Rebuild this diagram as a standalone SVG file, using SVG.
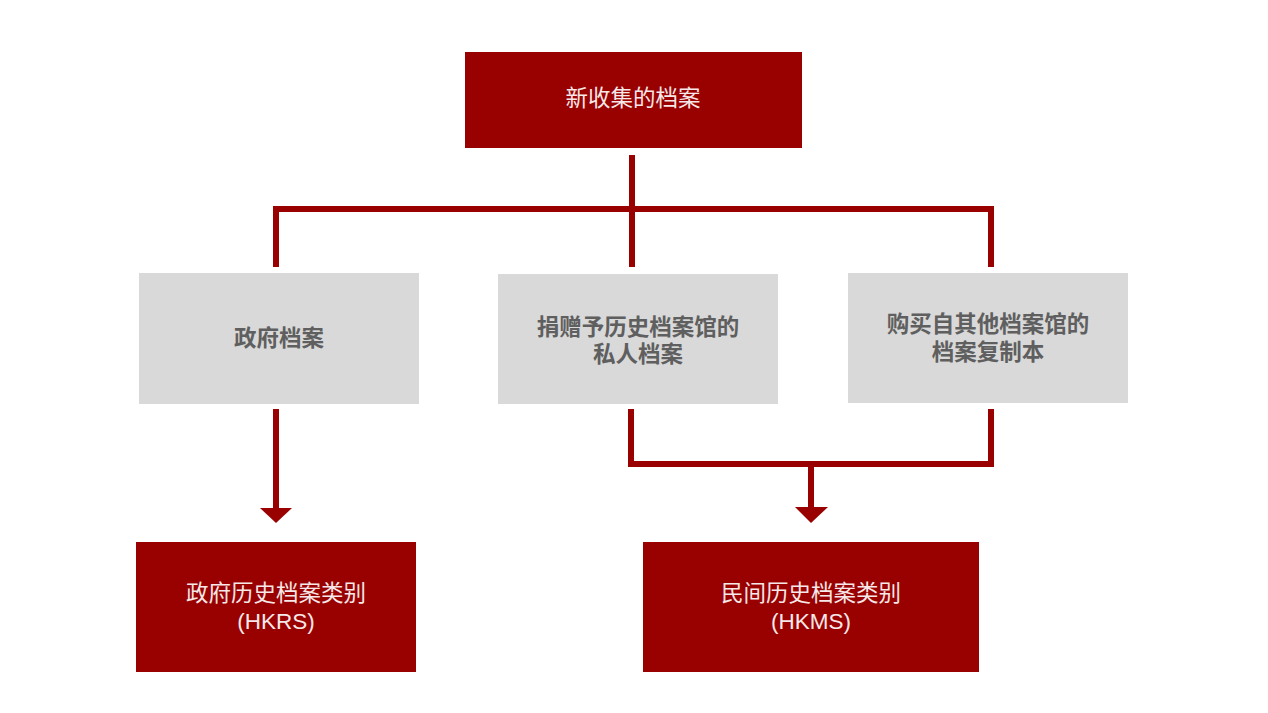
<svg xmlns="http://www.w3.org/2000/svg" width="1268" height="713" viewBox="0 0 1268 713">
<style>
.red{fill:#990000}
.gray{fill:#d9d9d9}
.wt{fill:#f6e8e8;font-family:"Liberation Sans","Noto Sans CJK SC",sans-serif;font-size:22.5px;text-anchor:middle;dominant-baseline:central}
.gt{fill:#5f5f5f;font-family:"Liberation Sans","Noto Sans CJK SC",sans-serif;font-size:22.5px;font-weight:bold;text-anchor:middle;dominant-baseline:central}
.ln{stroke:#990000;stroke-width:6;fill:none}
</style>
<rect width="1268" height="713" fill="#ffffff"/>
<g id="connectors">
<line class="ln" x1="632" y1="155" x2="632" y2="267"/>
<polyline class="ln" points="276,267 276,209 991,209 991,267"/>
<line class="ln" x1="276" y1="409" x2="276" y2="510"/>
<polygon class="red" points="260,508 292,508 276,523"/>
<polyline class="ln" points="631,409 631,464 991,464 991,409"/>
<line class="ln" x1="811" y1="464" x2="811" y2="510"/>
<polygon class="red" points="795,507 828,507 811,523"/>
</g>
<g id="top">
<rect class="red" x="465" y="52" width="337" height="96"/>
<text class="wt" x="633" y="98">新收集的档案</text>
</g>
<g id="gov">
<rect class="gray" x="139" y="273" width="280" height="131"/>
<text class="gt" x="279" y="338">政府档案</text>
</g>
<g id="private">
<rect class="gray" x="498" y="274" width="280" height="130"/>
<text class="gt" x="638" y="327">捐赠予历史档案馆的</text>
<text class="gt" x="638" y="354">私人档案</text>
</g>
<g id="purchased">
<rect class="gray" x="848" y="273" width="280" height="130"/>
<text class="gt" x="988" y="324">购买自其他档案馆的</text>
<text class="gt" x="988" y="352">档案复制本</text>
</g>
<g id="hkrs">
<rect class="red" x="136" y="542" width="280" height="130"/>
<text class="wt" x="276" y="593">政府历史档案类别</text>
<text class="wt" x="276" y="621">(HKRS)</text>
</g>
<g id="hkms">
<rect class="red" x="643" y="542" width="336" height="130"/>
<text class="wt" x="811" y="593">民间历史档案类别</text>
<text class="wt" x="811" y="621">(HKMS)</text>
</g>
</svg>
